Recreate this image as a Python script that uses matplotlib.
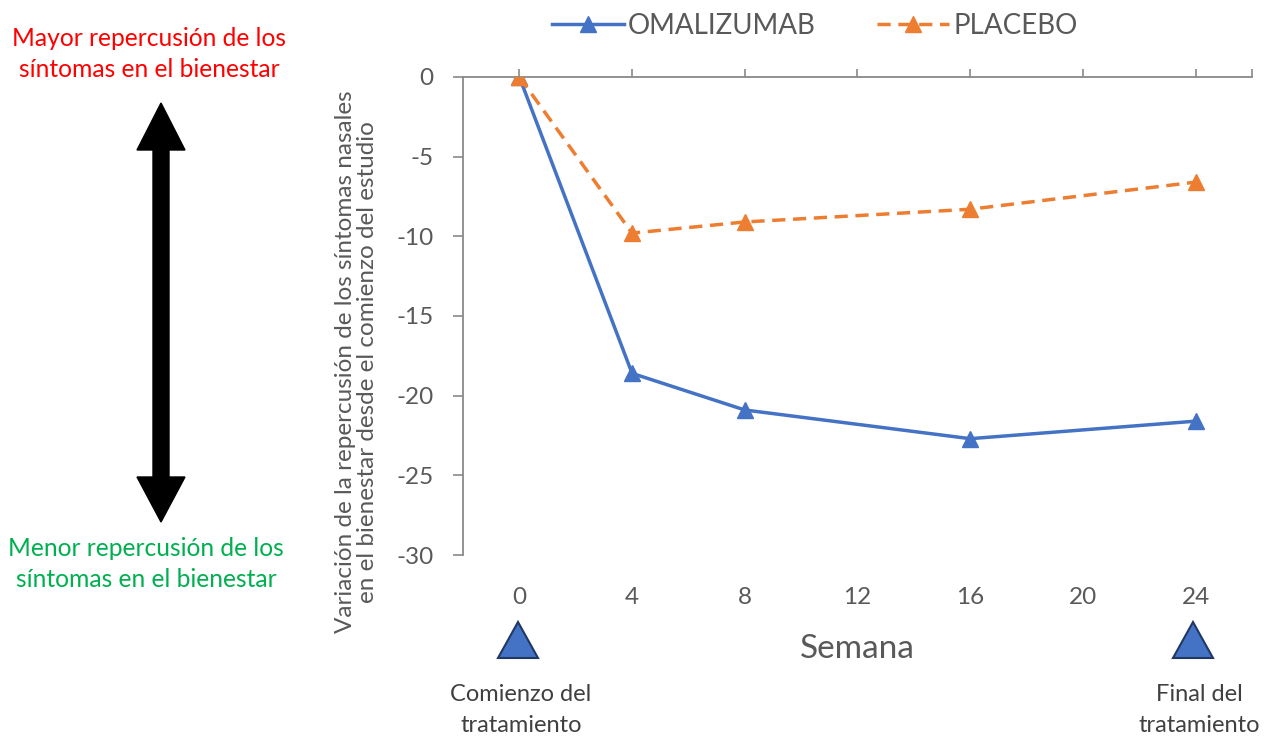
import matplotlib.pyplot as plt
from matplotlib.patches import Polygon

# Semanas de seguimiento y variación media en cada grupo
WEEKS = [0, 4, 8, 16, 24]
OMALIZUMAB = [0, -18.6, -20.9, -22.7, -21.6]
PLACEBO = [0, -9.8, -9.1, -8.3, -6.6]
X_TICKS = [0, 4, 8, 12, 16, 20, 24]
Y_TICKS = [0, -5, -10, -15, -20, -25, -30]

BLUE = '#4472C4'
ORANGE = '#ED7D31'
GRAY = '#595959'
AXIS = '#898989'
FONT = 'Lato'

fig = plt.figure(figsize=(12.73, 7.40), dpi=100)
ax = fig.add_axes([0.3637, 0.25, 0.6198, 0.646])

ax.plot(WEEKS, OMALIZUMAB, color=BLUE, lw=2.5, marker='^', ms=11,
        label='OMALIZUMAB', zorder=3)
ax.plot(WEEKS, PLACEBO, color=ORANGE, lw=2.5, ls=(0, (3.8, 2.2)),
        marker='^', ms=11, label='PLACEBO', zorder=4)

ax.set_xlim(-2, 26)
ax.set_ylim(-30, 0)
ax.set_xticks(X_TICKS)
ax.set_xticks([26], minor=True)
ax.set_yticks(Y_TICKS)
ax.set_xticklabels([str(t) for t in X_TICKS], family=FONT, fontsize=17.5,
                   color=GRAY)
ax.set_yticklabels([str(t) for t in Y_TICKS], family=FONT, fontsize=17.5,
                   color=GRAY)

# el eje x cruza en y=0: marcas hacia arriba, etiquetas abajo
ax.tick_params(axis='x', which='both', top=True, bottom=False,
               labeltop=False, labelbottom=True, direction='out',
               length=6, width=1.2, color=AXIS, pad=17)
ax.tick_params(axis='y', direction='out', length=7, width=1.2, color=AXIS,
               pad=14)
for side in ['bottom', 'right']:
    ax.spines[side].set_visible(False)
for side in ['top', 'left']:
    ax.spines[side].set_color(AXIS)
    ax.spines[side].set_linewidth(1.3)

ax.set_xlabel('Semana', family=FONT, fontsize=24, color=GRAY, labelpad=19)
ax.set_ylabel('Variación de la repercusión de los síntomas nasales\n'
              'en el bienestar desde el comienzo del estudio',
              family=FONT, fontsize=17.5, color=GRAY, linespacing=1.05)
ax.yaxis.set_label_coords(-0.108, 0.404)

fig.legend(loc='center', bbox_to_anchor=(0.64, 0.965), ncol=2,
           frameon=False, handlelength=2.6, handletextpad=0.15,
           columnspacing=2.2, prop={'family': FONT, 'size': 20},
           labelcolor=GRAY)

# capa superpuesta en píxeles para flecha, triángulos y rótulos
ov = fig.add_axes([0, 0, 1, 1], zorder=-1)
ov.set_xlim(0, 1273)
ov.set_ylim(740, 0)
ov.axis('off')

cx = 161
arrow = [(cx, 103), (cx + 24, 150), (cx + 8, 150), (cx + 8, 477),
         (cx + 24, 477), (cx, 522), (cx - 24, 477), (cx - 8, 477),
         (cx - 8, 150), (cx - 24, 150)]
ov.add_patch(Polygon(arrow, closed=True, facecolor='black',
                     edgecolor='black'))

ov.text(149, 54, 'Mayor repercusión de los\nsíntomas en el bienestar',
        ha='center', va='center', family=FONT, fontsize=17.7,
        color='#FF0000', linespacing=1.45)
ov.text(146, 564, 'Menor repercusión de los\nsíntomas en el bienestar',
        ha='center', va='center', family=FONT, fontsize=17.7,
        color='#00B050', linespacing=1.45)

for tx in [518, 1193]:
    ov.add_patch(Polygon([(tx, 622), (tx + 20, 658), (tx - 20, 658)],
                         closed=True, facecolor=BLUE, edgecolor='#203864',
                         lw=1.5))

ov.text(521, 710, 'Comienzo del\ntratamiento', ha='center', va='center',
        family=FONT, fontsize=17, color='#404040', linespacing=1.55)
ov.text(1199, 710, 'Final del\ntratamiento', ha='center', va='center',
        family=FONT, fontsize=17, color='#404040', linespacing=1.55)

fig.savefig('out.png', dpi=100)
